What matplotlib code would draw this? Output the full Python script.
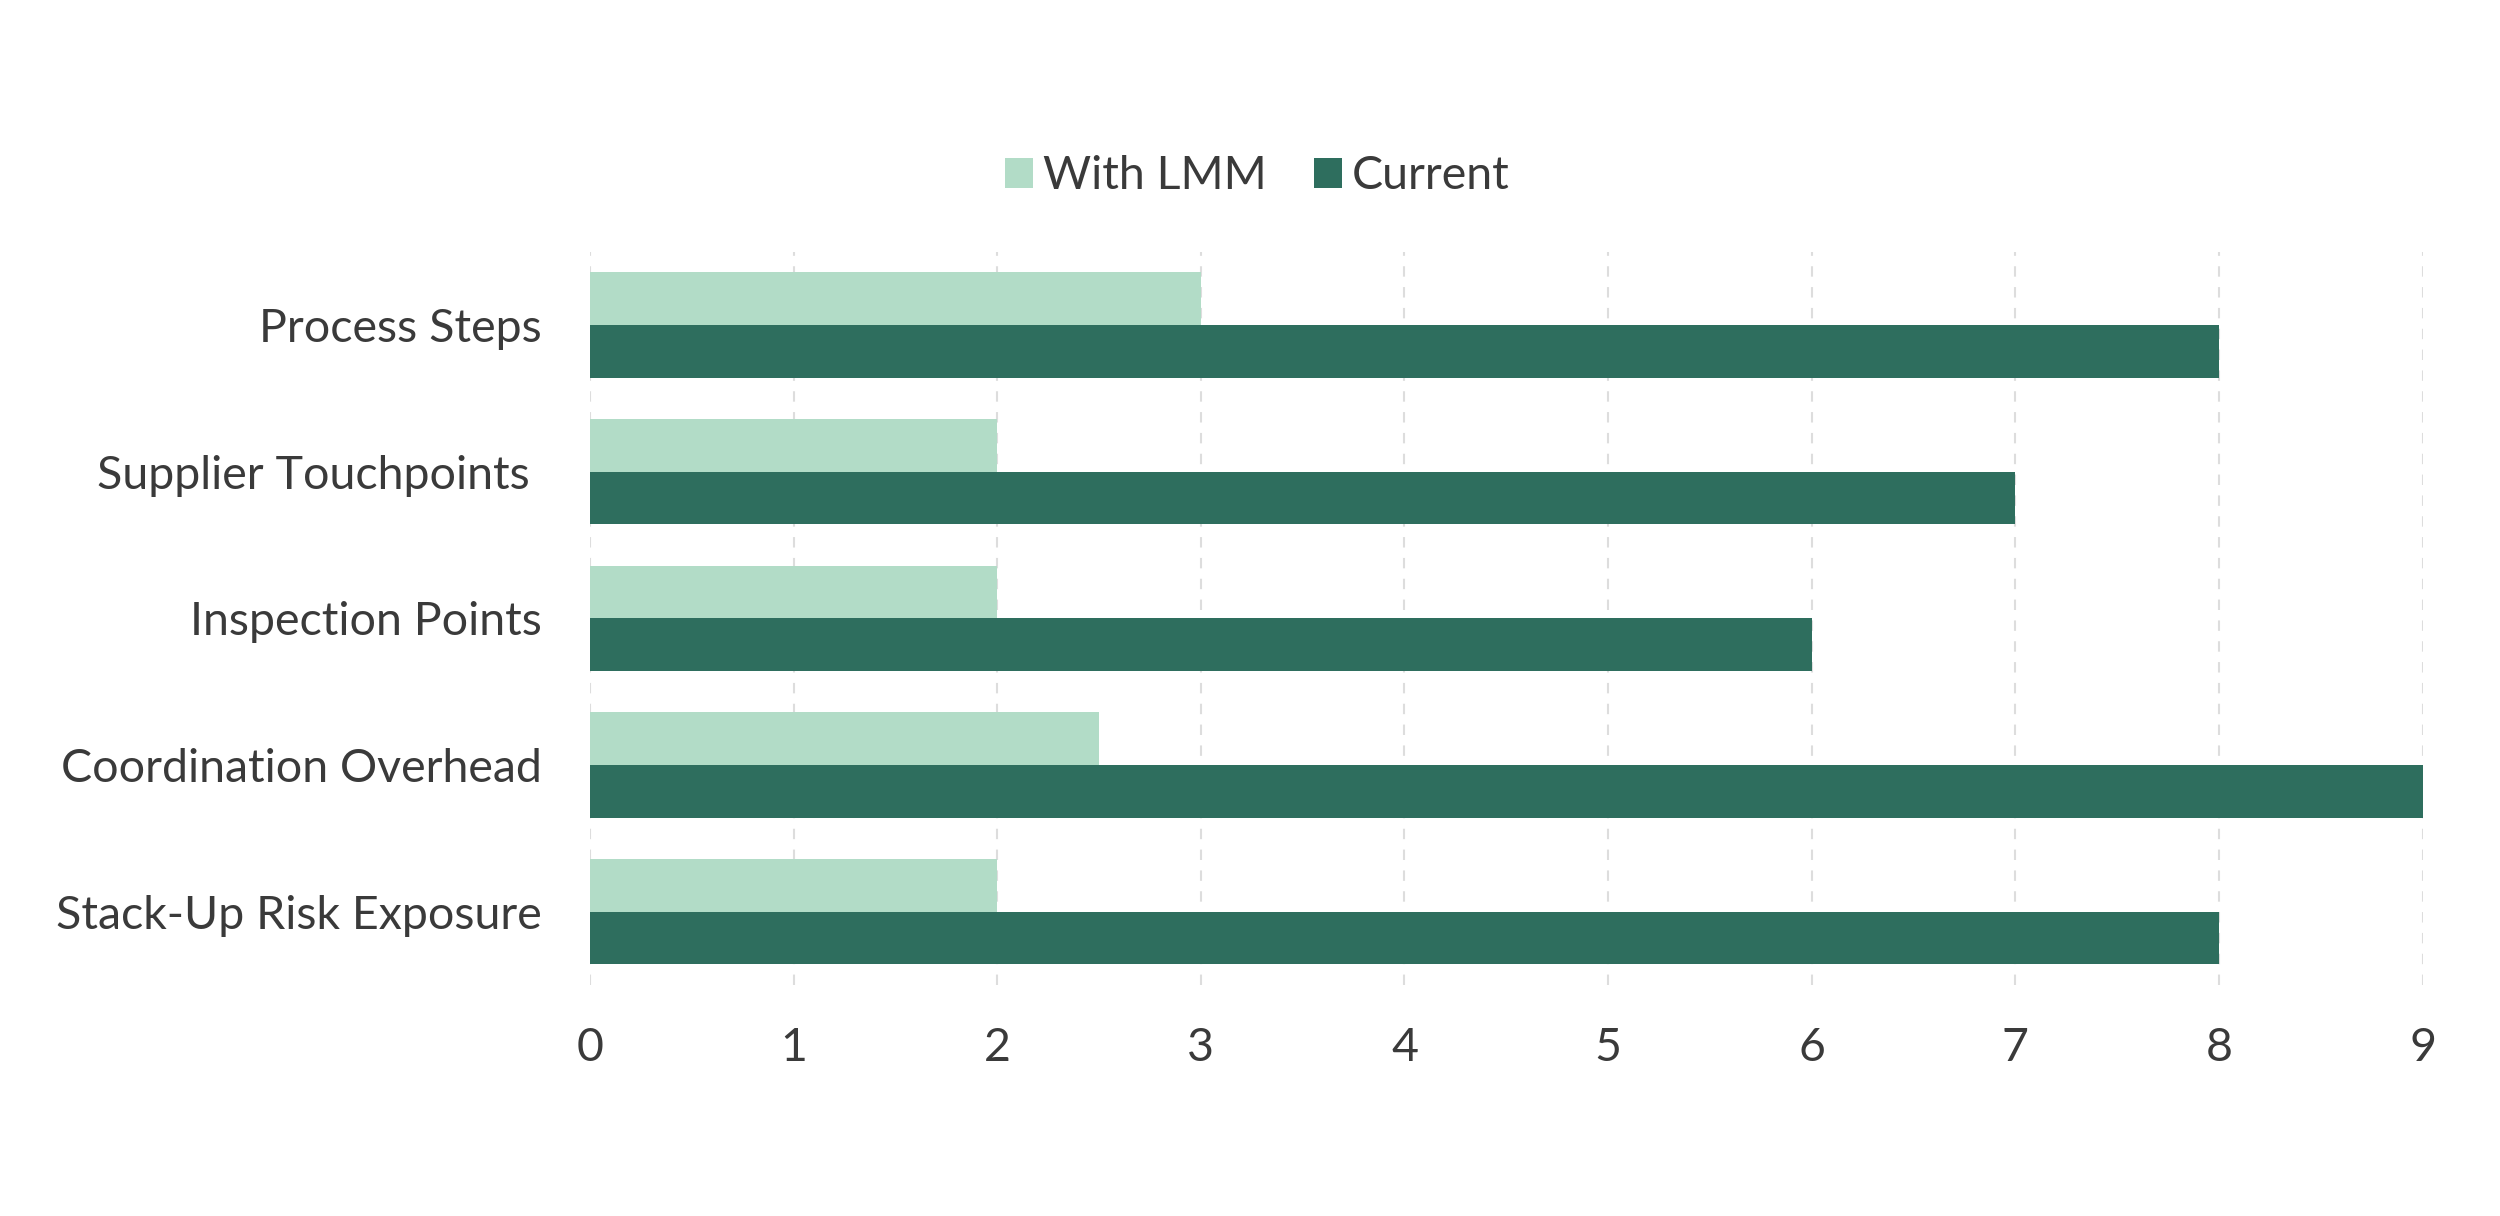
import numpy as np
import matplotlib.pyplot as plt

categories = ['Process Steps', 'Supplier Touchpoints ', 'Inspection Points',
              'Coordination Overhead', 'Stack-Up Risk Exposure']
with_lmm = [3, 2, 2, 2.5, 2]
current = [8, 7, 6, 9, 8]

light = '#b2dcc7'
dark = '#2e6e5e'
text_col = '#3a3a3a'

plt.rcParams['font.family'] = ['Lato', 'DejaVu Sans']

fig = plt.figure(figsize=(25, 12.16), dpi=100)
ax = fig.add_axes([0.236, 0.19, 0.733, 0.603])

y = np.arange(len(categories))
h = 0.36
ax.barh(y - h / 2, with_lmm, height=h, color=light, label='With LMM', zorder=2)
ax.barh(y + h / 2, current, height=h, color=dark, label='Current', zorder=2)

ax.set_ylim(len(categories) - 0.5, -0.5)
ax.set_xlim(0, 9)
ax.set_xticks(range(0, 10))
ax.set_yticks(y)
ax.set_yticklabels(categories)

ax.grid(axis='x', color='#dddddd', linestyle=(0, (5, 5)), linewidth=1.5, zorder=0)
ax.grid(axis='y', visible=False)
for s in ax.spines.values():
    s.set_visible(False)
ax.tick_params(axis='both', length=0, colors=text_col, labelsize=33.5)
ax.tick_params(axis='x', pad=30)
ax.tick_params(axis='y', pad=35)

leg = fig.legend(loc='center', bbox_to_anchor=(0.503, 0.855), ncol=2, frameon=False,
                 fontsize=33.5, handlelength=0.6, handleheight=0.6, handletextpad=0.22,
                 columnspacing=1.0)
for t in leg.get_texts():
    t.set_color(text_col)

fig.savefig('out.png', dpi=100, facecolor='white')
